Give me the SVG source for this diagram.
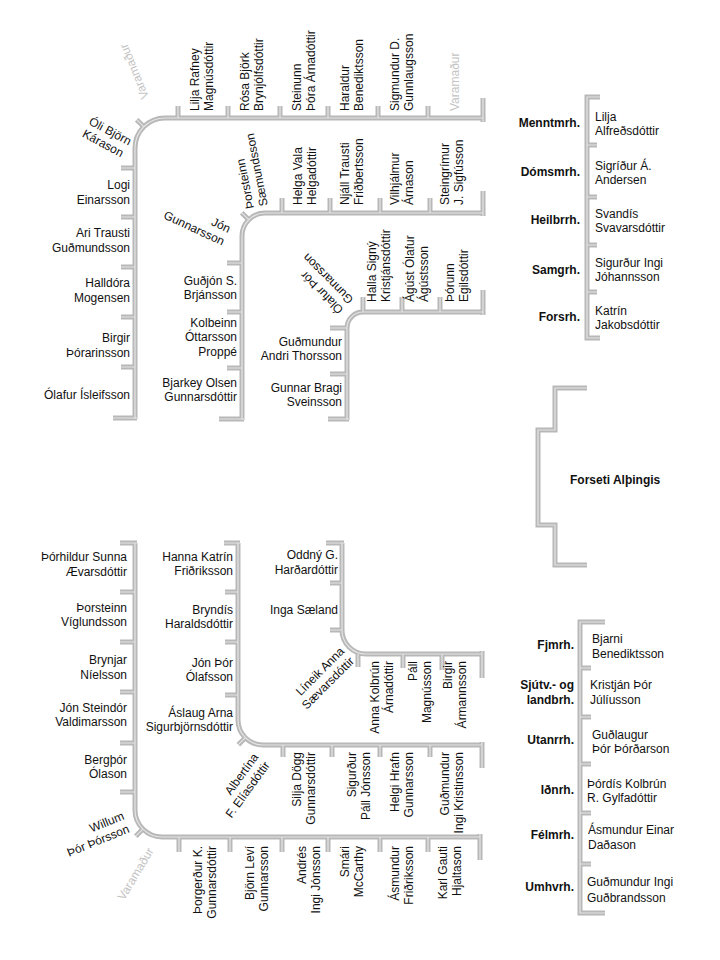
<svg xmlns="http://www.w3.org/2000/svg" width="720" height="960" viewBox="0 0 720 960">
<style>
text{font-family:"Liberation Sans",Arial,sans-serif;font-size:12px;fill:#111}
.e{text-anchor:end}
.b{font-weight:bold}
.v{fill:#c3c3c3}
.d{fill:none;stroke:#b8b8b8;stroke-width:5}
.h{fill:none;stroke:#e4e4e4;stroke-width:1.2}
</style>
<defs>
<g id="lines">
<path d="M483 98V122M483 118H165A30 30 0 0 0 135 148V419M178 106V118M228 106V118M280 106V118M328 106V118M378 106V118M428 106V118M143.8 126.8L136.7 119.7M121 168H135M121 217H135M121 267H135M121 317H135M121 367H135M113 418H137"/>
<path d="M483 191V216M483 213H265A23 23 0 0 0 242 236V420M282 198V213M330 198V213M380 198V213M430 198V213M248.7 219.7L241.7 212.7M227 263H242M227 312H242M227 368H242M219 419H244"/>
<path d="M483 290V315M483 312H363A16 16 0 0 0 347 328V420M363 297V312M402 297V312M440 297V312M330 328H347M330 374H347M328 419H349"/>
<path d="M600 97H587V338H600M587 145H597M587 197H597M587 245H597M587 292H597"/>
<path d="M587 388H555V430H538V525H555V565H587"/>
<path d="M605 622H580V913H605M580 668H591M580 717H591M580 764H591M580 813H591M580 864H591"/>
<path d="M120 543H137M135 543V810A27 27 0 0 0 162 837H480M480 834V860M120 592H135M120 642H135M120 692H135M120 743H135M120 792H135M179 837V852M230 837V852M282 837V852M328 837V852M380 837V852M428 837V852M142.9 829.1L135.8 836.2"/>
<path d="M224 543H240M238 543V720A25 25 0 0 0 263 745H482M482 742V768M225 592H238M225 642H238M225 695H238M283 745V757M332 745V757M380 745V757M430 745V757M245.3 737.7L238.3 744.7"/>
<path d="M326 543H344M342 543V630A24 24 0 0 0 366 654H482M482 651V678M330 583H342M330 630H342M358 654V667M403 654V668M442 654V670"/>
</g>
</defs>
<rect width="720" height="960" fill="#fff"/>
<g id="connectors"><use href="#lines" class="d"/><use href="#lines" class="h"/></g>

<!-- top outer row -->
<g id="vara-top-corner"><text class="v" transform="translate(149,97) rotate(-112)">Varamaður</text></g>
<g id="oli-bjorn"><text transform="translate(88,124) rotate(28)"><tspan x="0">Óli Björn</tspan><tspan x="0" dy="14">Kárason</tspan></text></g>
<g id="lilja-rafney"><text transform="translate(199,111) rotate(-90)"><tspan x="0">Lilja Rafney</tspan><tspan x="0" dy="14">Magnúsdóttir</tspan></text></g>
<g id="rosa-bjork"><text transform="translate(249,111) rotate(-90)"><tspan x="0">Rósa Björk</tspan><tspan x="0" dy="14">Brynjólfsdóttir</tspan></text></g>
<g id="steinunn-thora"><text transform="translate(301,111) rotate(-90)"><tspan x="0">Steinunn</tspan><tspan x="0" dy="14">Þóra Árnadóttir</tspan></text></g>
<g id="haraldur"><text transform="translate(349,111) rotate(-90)"><tspan x="0">Haraldur</tspan><tspan x="0" dy="14">Benediktsson</tspan></text></g>
<g id="sigmundur"><text transform="translate(399,111) rotate(-90)"><tspan x="0">Sigmundur D.</tspan><tspan x="0" dy="14">Gunnlaugsson</tspan></text></g>
<g id="vara-top-row"><text class="v" transform="translate(459,111) rotate(-90)">Varamaður</text></g>

<!-- top outer column -->
<g id="logi"><text class="e"><tspan x="130" y="189">Logi</tspan><tspan x="130" y="204">Einarsson</tspan></text></g>
<g id="ari-trausti"><text class="e"><tspan x="130" y="237">Ari Trausti</tspan><tspan x="130" y="252">Guðmundsson</tspan></text></g>
<g id="halldora"><text class="e"><tspan x="130" y="287">Halldóra</tspan><tspan x="130" y="302">Mogensen</tspan></text></g>
<g id="birgir-th"><text class="e"><tspan x="130" y="342">Birgir</tspan><tspan x="130" y="357">Þórarinsson</tspan></text></g>
<g id="olafur-is"><text class="e" x="130" y="399">Ólafur Ísleifsson</text></g>

<!-- inner top -->
<g id="thorsteinn-s"><text transform="translate(254,208) rotate(-101)"><tspan x="0">Þorsteinn</tspan><tspan x="0" dy="14">Sæmundsson</tspan></text></g>
<g id="jon-gunnarsson"><text class="e" transform="translate(228,233) rotate(25)"><tspan x="0">Jón</tspan><tspan x="0" dy="14">Gunnarsson</tspan></text></g>
<g id="helga-vala"><text transform="translate(302,205) rotate(-90)"><tspan x="0">Helga Vala</tspan><tspan x="0" dy="14">Helgadóttir</tspan></text></g>
<g id="njall"><text transform="translate(349,205) rotate(-90)"><tspan x="0">Njáll Trausti</tspan><tspan x="0" dy="14">Friðbertsson</tspan></text></g>
<g id="vilhjalmur"><text transform="translate(399,205) rotate(-90)"><tspan x="0">Vilhjálmur</tspan><tspan x="0" dy="14">Árnason</tspan></text></g>
<g id="steingrimur"><text transform="translate(449,205) rotate(-90)"><tspan x="0">Steingrímur</tspan><tspan x="0" dy="14">J. Sigfússon</tspan></text></g>
<g id="gudjon"><text class="e"><tspan x="237" y="285">Guðjón S.</tspan><tspan x="237" y="299">Brjánsson</tspan></text></g>
<g id="kolbeinn"><text class="e"><tspan x="237" y="327">Kolbeinn</tspan><tspan x="237" y="341">Óttarsson</tspan><tspan x="237" y="356">Proppé</tspan></text></g>
<g id="bjarkey"><text class="e"><tspan x="237" y="387">Bjarkey Olsen</tspan><tspan x="237" y="401">Gunnarsdóttir</tspan></text></g>

<!-- desk C -->
<g id="olafur-thor"><text transform="translate(344,309) rotate(-135)"><tspan x="0">Ólafur Þór</tspan><tspan x="0" dy="14">Gunnarsson</tspan></text></g>
<g id="halla-signy"><text transform="translate(376,302) rotate(-90)"><tspan x="0">Halla Signý</tspan><tspan x="0" dy="14">Kristjánsdóttir</tspan></text></g>
<g id="agust-olafur"><text transform="translate(414,302) rotate(-90)"><tspan x="0">Ágúst Ólafur</tspan><tspan x="0" dy="14">Ágústsson</tspan></text></g>
<g id="thorunn"><text transform="translate(454,302) rotate(-90)"><tspan x="0">Þórunn</tspan><tspan x="0" dy="14">Egilsdóttir</tspan></text></g>
<g id="gudmundur-andri"><text class="e"><tspan x="342" y="346">Guðmundur</tspan><tspan x="342" y="360">Andri Thorsson</tspan></text></g>
<g id="gunnar-bragi"><text class="e"><tspan x="342" y="392">Gunnar Bragi</tspan><tspan x="342" y="406">Sveinsson</tspan></text></g>

<!-- top right ministers -->
<g id="menntmrh"><text class="e b" x="580" y="127">Menntmrh.</text><text><tspan x="595" y="121">Lilja</tspan><tspan x="595" y="135">Alfreðsdóttir</tspan></text></g>
<g id="domsmrh"><text class="e b" x="580" y="176">Dómsmrh.</text><text><tspan x="595" y="170">Sigríður Á.</tspan><tspan x="595" y="184">Andersen</tspan></text></g>
<g id="heilbrrh"><text class="e b" x="580" y="224">Heilbrrh.</text><text><tspan x="595" y="218">Svandís</tspan><tspan x="595" y="232">Svavarsdóttir</tspan></text></g>
<g id="samgrh"><text class="e b" x="580" y="274">Samgrh.</text><text><tspan x="595" y="267">Sigurður Ingi</tspan><tspan x="595" y="281">Jóhannsson</tspan></text></g>
<g id="forsrh"><text class="e b" x="580" y="321">Forsrh.</text><text><tspan x="595" y="315">Katrín</tspan><tspan x="595" y="329">Jakobsdóttir</tspan></text></g>

<g id="forseti"><text class="b" x="570" y="484">Forseti Alþingis</text></g>

<!-- bottom right ministers -->
<g id="fjmrh"><text class="e b" x="574" y="649">Fjmrh.</text><text><tspan x="592" y="643">Bjarni</tspan><tspan x="592" y="658">Benediktsson</tspan></text></g>
<g id="sjutv"><text class="e b"><tspan x="574" y="689">Sjútv.- og</tspan><tspan x="574" y="704">landbrh.</tspan></text><text><tspan x="590" y="689">Kristján Þór</tspan><tspan x="590" y="704">Júlíusson</tspan></text></g>
<g id="utanrrh"><text class="e b" x="574" y="744">Utanrrh.</text><text><tspan x="592" y="739">Guðlaugur</tspan><tspan x="592" y="753">Þór Þórðarson</tspan></text></g>
<g id="idnrh"><text class="e b" x="574" y="794">Iðnrh.</text><text><tspan x="587" y="788">Þórdís Kolbrún</tspan><tspan x="587" y="802">R. Gylfadóttir</tspan></text></g>
<g id="felmrh"><text class="e b" x="574" y="839">Félmrh.</text><text><tspan x="588" y="834">Ásmundur Einar</tspan><tspan x="588" y="849">Daðason</tspan></text></g>
<g id="umhvrh"><text class="e b" x="574" y="891">Umhvrh.</text><text><tspan x="587" y="886">Guðmundur Ingi</tspan><tspan x="587" y="902">Guðbrandsson</tspan></text></g>

<!-- bottom outer column -->
<g id="thorhildur"><text class="e"><tspan x="127" y="561">Þórhildur Sunna</tspan><tspan x="127" y="576">Ævarsdóttir</tspan></text></g>
<g id="thorsteinn-v"><text class="e"><tspan x="127" y="612">Þorsteinn</tspan><tspan x="127" y="626">Víglundsson</tspan></text></g>
<g id="brynjar"><text class="e"><tspan x="127" y="664">Brynjar</tspan><tspan x="127" y="679">Níelsson</tspan></text></g>
<g id="jon-steindor"><text class="e"><tspan x="127" y="712">Jón Steindór</tspan><tspan x="127" y="726">Valdimarsson</tspan></text></g>
<g id="bergthor"><text class="e"><tspan x="127" y="764">Bergþór</tspan><tspan x="127" y="778">Ólason</tspan></text></g>
<g id="willum"><text class="e" transform="translate(125,819) rotate(-22)"><tspan x="0">Willum</tspan><tspan x="0" dy="14">Þór Þórsson</tspan></text></g>
<g id="vara-bottom-corner"><text class="v" transform="translate(124,901) rotate(-59)">Varamaður</text></g>

<!-- bottom outer row -->
<g id="thorgerdur"><text class="e" transform="translate(202,846) rotate(-90)"><tspan x="0">Þorgerður K.</tspan><tspan x="0" dy="14">Gunnarsdóttir</tspan></text></g>
<g id="bjorn-levi"><text class="e" transform="translate(254,846) rotate(-90)"><tspan x="0">Björn Leví</tspan><tspan x="0" dy="14">Gunnarsson</tspan></text></g>
<g id="andres-ingi"><text class="e" transform="translate(306,846) rotate(-90)"><tspan x="0">Andrés</tspan><tspan x="0" dy="14">Ingi Jónsson</tspan></text></g>
<g id="smari"><text class="e" transform="translate(349,846) rotate(-90)"><tspan x="0">Smári</tspan><tspan x="0" dy="14">McCarthy</tspan></text></g>
<g id="asmundur-f"><text class="e" transform="translate(399,846) rotate(-90)"><tspan x="0">Ásmundur</tspan><tspan x="0" dy="14">Friðriksson</tspan></text></g>
<g id="karl-gauti"><text class="e" transform="translate(447,846) rotate(-90)"><tspan x="0">Karl Gauti</tspan><tspan x="0" dy="14">Hjaltason</tspan></text></g>

<!-- inner bottom -->
<g id="hanna-katrin"><text class="e"><tspan x="233" y="561">Hanna Katrín</tspan><tspan x="233" y="575">Friðriksson</tspan></text></g>
<g id="bryndis"><text class="e"><tspan x="233" y="614">Bryndís</tspan><tspan x="233" y="628">Haraldsdóttir</tspan></text></g>
<g id="jon-thor"><text class="e"><tspan x="233" y="667">Jón Þór</tspan><tspan x="233" y="681">Ólafsson</tspan></text></g>
<g id="aslaug"><text class="e"><tspan x="233" y="717">Áslaug Arna</tspan><tspan x="233" y="731">Sigurbjörnsdóttir</tspan></text></g>
<g id="albertina"><text class="e" transform="translate(259,757) rotate(-54)"><tspan x="0">Albertína</tspan><tspan x="0" dy="14">F. Elíasdóttir</tspan></text></g>
<g id="silja-dogg"><text class="e" transform="translate(301,752) rotate(-90)"><tspan x="0">Silja Dögg</tspan><tspan x="0" dy="14">Gunnarsdóttir</tspan></text></g>
<g id="sigurdur-pall"><text class="e" transform="translate(356,752) rotate(-90)"><tspan x="0">Sigurður</tspan><tspan x="0" dy="14">Páll Jónsson</tspan></text></g>
<g id="helgi-hrafn"><text class="e" transform="translate(399,752) rotate(-90)"><tspan x="0">Helgi Hrafn</tspan><tspan x="0" dy="14">Gunnarsson</tspan></text></g>
<g id="gudmundur-ingi-k"><text class="e" transform="translate(449,752) rotate(-90)"><tspan x="0">Guðmundur</tspan><tspan x="0" dy="14">Ingi Kristinsson</tspan></text></g>

<!-- middle bottom -->
<g id="oddny"><text class="e"><tspan x="338" y="559">Oddný G.</tspan><tspan x="338" y="574">Harðardóttir</tspan></text></g>
<g id="inga"><text class="e" x="338" y="614">Inga Sæland</text></g>
<g id="lineik"><text class="e" transform="translate(345,652) rotate(-45)"><tspan x="0">Líneik Anna</tspan><tspan x="0" dy="14">Sævarsdóttir</tspan></text></g>
<g id="anna-kolbrun"><text class="e" transform="translate(379,661) rotate(-90)"><tspan x="0">Anna Kolbrún</tspan><tspan x="0" dy="14">Árnadóttir</tspan></text></g>
<g id="pall"><text class="e" transform="translate(417,661) rotate(-90)"><tspan x="0">Páll</tspan><tspan x="0" dy="14">Magnússon</tspan></text></g>
<g id="birgir-a"><text class="e" transform="translate(452,661) rotate(-90)"><tspan x="0">Birgir</tspan><tspan x="0" dy="14">Ármannsson</tspan></text></g>
</svg>
